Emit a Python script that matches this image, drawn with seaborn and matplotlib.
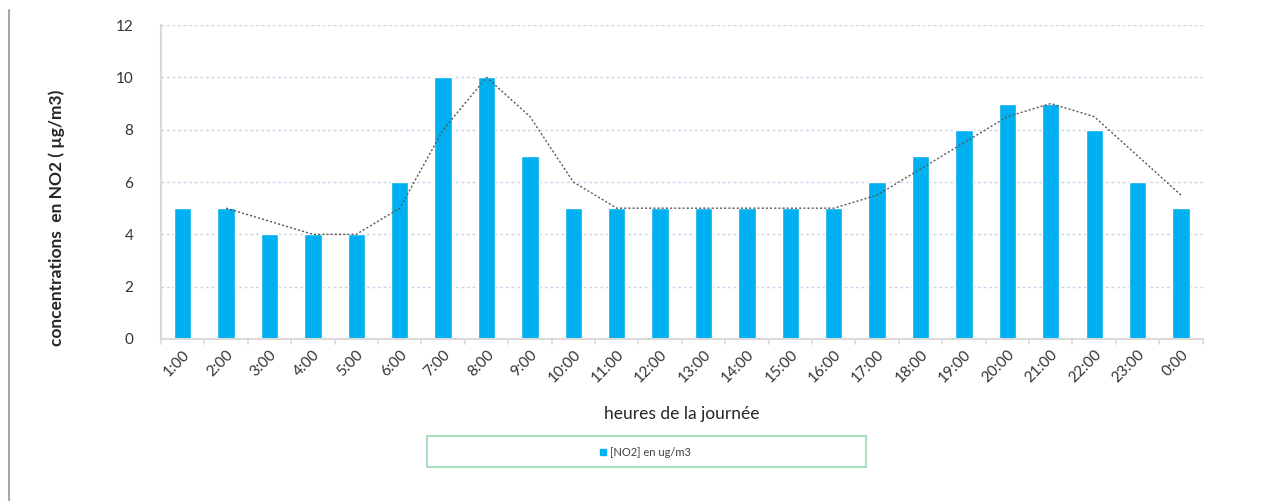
import numpy as np
import pandas as pd
import matplotlib
matplotlib.use("Agg")
import matplotlib.pyplot as plt
from matplotlib.lines import Line2D
from matplotlib.patches import Rectangle
import seaborn as sns

# Hourly NO2 concentrations (µg/m3)
hours = ["1:00", "2:00", "3:00", "4:00", "5:00", "6:00", "7:00", "8:00",
         "9:00", "10:00", "11:00", "12:00", "13:00", "14:00", "15:00", "16:00",
         "17:00", "18:00", "19:00", "20:00", "21:00", "22:00", "23:00", "0:00"]
no2 = [5, 5, 4, 4, 4, 6, 10, 10, 7, 5, 5, 5, 5, 5, 5, 5, 6, 7, 8, 9, 9, 8, 6, 5]
y_ticks = [0, 2, 4, 6, 8, 10, 12]

sns.set_theme(style="white")
plt.rcParams["font.family"] = ["Lato", "DejaVu Sans"]

df = pd.DataFrame({"heure": hours, "no2": no2})

fig = plt.figure(figsize=(12.70, 5.01), dpi=100)
ax = fig.add_axes([0.1268, 0.3234, 0.947 - 0.1268, 0.950 - 0.3234])

bar_color = "#00B0F0"
sns.barplot(data=df, x="heure", y="no2", color=bar_color, saturation=1,
            width=0.4, ax=ax)

# 2-period moving average trendline
ma = pd.Series(no2).rolling(2).mean()
xs = np.arange(len(hours))
ax.plot(xs[1:], ma[1:], color="#595959", lw=1.0, ls=(0, (1.5, 1.5)), zorder=4)

ax.set_ylim(0, 12)
ax.set_xlim(-0.5, len(hours) - 0.5)
ax.set_yticks(y_ticks)
ax.set_yticklabels([str(v) for v in y_ticks])
ax.yaxis.grid(True, color="#C9D3EA", lw=1.0, ls=(0, (2, 2)))
ax.set_axisbelow(True)

for s in ["top", "right"]:
    ax.spines[s].set_visible(False)
ax.spines["left"].set_color("#D9D9D9")
ax.spines["left"].set_linewidth(1.5)
ax.spines["bottom"].set_color("#D9D9D9")
ax.spines["bottom"].set_linewidth(1.5)

ax.tick_params(axis="y", length=0, pad=20, labelsize=11, labelcolor="#333333")
ax.tick_params(axis="x", length=0, pad=6, labelsize=11, labelcolor="#333333")
plt.setp(ax.get_xticklabels(), rotation=45, ha="right", rotation_mode="anchor")

# tick marks at category boundaries on the x axis
for b in np.arange(-0.5, len(hours) + 0.5, 1.0):
    ax.plot([b, b], [0, -0.2], color="#D9D9D9", lw=1.2, clip_on=False,
            transform=ax.transData, zorder=1)

ax.set_xlabel("heures de la journée", fontsize=12.5, color="#262626")
ax.set_ylabel("concentrations  en NO2 ( µg/m3)", fontsize=12.5, fontweight="bold",
              color="#262626")
ax.xaxis.set_label_coords(0.5, -0.212)
ax.yaxis.set_label_coords(-0.092, 0.385)

# legend box
fig.patches.append(Rectangle((427 / 1270, 1 - 467 / 501), (866 - 427) / 1270, 31 / 501,
                             transform=fig.transFigure, fill=False,
                             edgecolor="#A8E0BC", lw=1.5))
fig.patches.append(Rectangle((600 / 1270, 1 - 455 / 501), 6 / 1270, 6 / 501,
                             transform=fig.transFigure, color=bar_color))
fig.text(610 / 1270, 1 - 452 / 501, "[NO2] en ug/m3", fontsize=8,
         color="#404040", va="center", ha="left")

# left frame edge
fig.lines.append(Line2D([9 / 1270, 9 / 1270], [1 - 10 / 501, 0],
                        transform=fig.transFigure, color="#A6A6A6", lw=1.5))

fig.savefig("out.png", dpi=100)
